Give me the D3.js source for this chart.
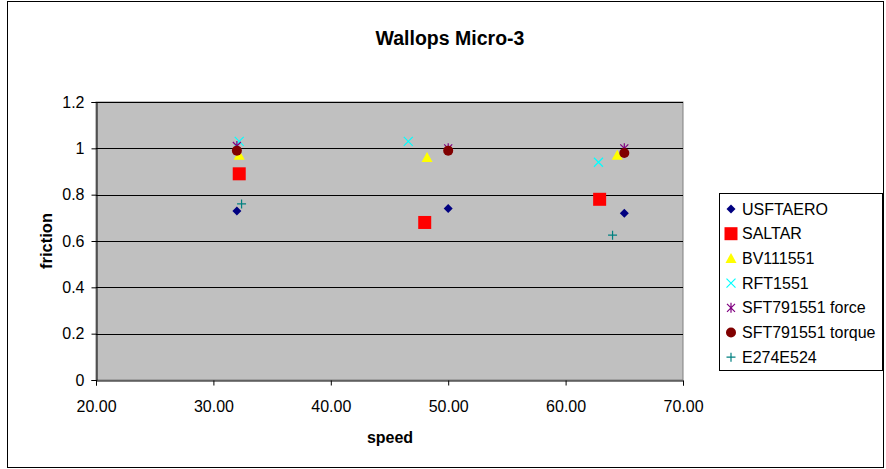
<!DOCTYPE html>
<html><head><meta charset="utf-8">
<script src="https://cdn.jsdelivr.net/npm/d3@7"></script>
<style>body{margin:0;background:#fff}text{font-family:"Liberation Sans",Arial,sans-serif}</style>
</head><body>
<svg id="c" width="886" height="469"></svg>
<script>
const seriesNames = ["USFTAERO","SALTAR","BV111551","RFT1551","SFT791551 force","SFT791551 torque","E274E524"];
const seriesColors = ["#000080","#FF0000","#FFFF00","#00FFFF","#800080","#800000","#008080"];
const seriesShapes = ["diamond","square","triangle","x","star","circle","plus"];
const USFTAERO = [[32.0,0.73],[50.0,0.74],[65.0,0.72]];
const SALTAR = [[32.2,0.89],[48.0,0.68],[62.9,0.78]];
const BV111551 = [[32.2,0.97],[48.2,0.96],[64.4,0.97]];
const RFT1551 = [[32.2,1.03],[46.6,1.03],[62.8,0.94]];
const SFTforce = [[32.0,1.01],[50.0,1.00],[65.0,1.00]];
const SFTtorque = [[32.0,0.99],[50.0,0.99],[65.0,0.98]];
const E274E524 = [[32.4,0.76],[64.0,0.625]];
const seriesData = [USFTAERO,SALTAR,BV111551,RFT1551,SFTforce,SFTtorque,E274E524];
const xTicks = [20,30,40,50,60,70];
const yTicks = [0,0.2,0.4,0.6,0.8,1,1.2];

const svg = d3.select("#c");
const L=96,R=683,T=102,B=380;
const x = d3.scaleLinear().domain([20,70]).range([L,R]);
const y = d3.scaleLinear().domain([0,1.2]).range([B,T]);

svg.append("rect").attr("x",7.5).attr("y",1.5).attr("width",876).attr("height",466).attr("fill","#fff").attr("stroke","#000").attr("stroke-width",1);

svg.append("text").attr("x",450).attr("y",45).attr("text-anchor","middle").attr("font-size",19.5).attr("font-weight","bold").text("Wallops Micro-3");

svg.append("rect").attr("x",L).attr("y",T).attr("width",R-L).attr("height",B-T).attr("fill","#C0C0C0").attr("stroke","#808080");

svg.append("g").selectAll("line").data(yTicks.filter(d=>d>0)).join("line")
  .attr("x1",L).attr("x2",R).attr("y1",d=>Math.round(y(d))+0.5).attr("y2",d=>Math.round(y(d))+0.5).attr("stroke","#000");

const ya = svg.append("g").attr("transform",`translate(${L+0.5},0)`)
  .call(d3.axisLeft(y).tickValues(yTicks).tickSize(5).tickPadding(7).tickFormat(d=>d3.format("~g")(d)));
const xa = svg.append("g").attr("transform",`translate(0,${B+0.5})`)
  .call(d3.axisBottom(x).tickValues(xTicks).tickSize(5).tickPadding(15).tickFormat(d3.format(".2f")));
[ya,xa].forEach(g=>{g.selectAll("text").attr("font-size",16).attr("fill","#000").attr("font-family","Liberation Sans, Arial");
  g.selectAll("line,path").attr("stroke","#000");});

svg.append("text").attr("x",390).attr("y",443).attr("text-anchor","middle").attr("font-size",16).attr("font-weight","bold").text("speed");
svg.append("text").attr("transform","translate(51.5,241) rotate(-90)").attr("text-anchor","middle").attr("font-size",16.5).attr("font-weight","bold").text("friction");

function marker(g, shape, color){
  if(shape==="diamond") g.append("path").attr("d","M0,-4.5L4.5,0L0,4.5L-4.5,0Z").attr("fill",color);
  else if(shape==="square") g.append("rect").attr("x",-6.5).attr("y",-6.5).attr("width",13).attr("height",13).attr("fill",color);
  else if(shape==="triangle") g.append("path").attr("d","M0,-5.5L5.5,4.5L-5.5,4.5Z").attr("fill",color);
  else if(shape==="circle") g.append("circle").attr("r",5).attr("fill",color);
  else if(shape==="x") g.append("path").attr("d","M-4.5,-4.5L4.5,4.5M4.5,-4.5L-4.5,4.5").attr("stroke",color).attr("stroke-width",1.2).attr("fill","none");
  else if(shape==="star") g.append("path").attr("d","M-4,-4L4,4M4,-4L-4,4M0,-5V5").attr("stroke",color).attr("stroke-width",1.2).attr("fill","none");
  else if(shape==="plus") g.append("path").attr("d","M-4.5,0H4.5M0,-4.5V4.5").attr("stroke",color).attr("stroke-width",1.2).attr("fill","none");
}

seriesData.forEach((data,i)=>{
  const g = svg.append("g");
  data.forEach(p=>{
    const m = g.append("g").attr("transform",`translate(${x(p[0])},${y(p[1])})`);
    marker(m, seriesShapes[i], seriesColors[i]);
  });
});

const lg = svg.append("g");
lg.append("rect").attr("x",719.5).attr("y",193.5).attr("width",163).attr("height",177).attr("fill","#fff").attr("stroke","#000");
seriesNames.forEach((n,i)=>{
  const yy = 209 + i*24.7;
  const m = lg.append("g").attr("transform",`translate(731,${yy})`);
  marker(m, seriesShapes[i], seriesColors[i]);
  lg.append("text").attr("x",742).attr("y",yy+5.5).attr("font-size",16).text(n);
});
</script>
</body></html>
